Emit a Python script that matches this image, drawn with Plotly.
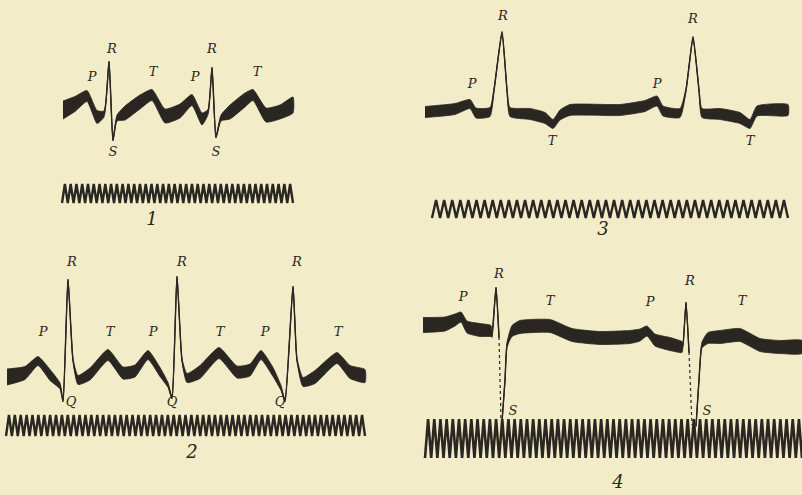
import plotly.graph_objects as go

# ---- electrocardiogram tracings (x: horizontal position, y: vertical position, w: stroke thickness)
# Curve 1
C1_X = [63, 75, 87, 97, 104, 109, 113, 117, 125, 140, 152, 165, 180, 192, 202, 208, 212, 216, 221, 230, 245, 253, 266, 280, 293]
C1_Y = [110, 104, 96, 117, 114, 62, 140, 118, 113, 102, 95, 116, 111, 100, 119, 112, 68, 137, 118, 112, 100, 95, 115, 112, 105]
C1_W = [18, 15, 11, 13, 6, 2, 2, 6, 14, 14, 11, 14, 14, 11, 12, 5, 2, 2, 6, 14, 14, 11, 14, 14, 16]

# Curve 2
C2_X = [7, 25, 38, 50, 60, 63, 68, 73, 78, 90, 108, 123, 135, 148, 160, 168, 172, 177, 182, 187, 200, 219, 237, 250,
        261, 273, 281, 285, 293, 297, 303, 315, 337, 350, 365]
C2_Y = [377, 373, 361, 375, 386, 401, 280, 360, 380, 374, 355, 373, 371, 355, 372, 385, 398, 277, 360, 378, 372, 353,
        372, 370, 355, 372, 388, 401, 287, 360, 382, 377, 358, 372, 376]
C2_W = [16, 13, 9, 11, 6, 2, 2, 3, 9, 12, 11, 12, 12, 9, 9, 5, 2, 2, 3, 9, 13, 11, 12, 12, 9, 9, 5, 2, 2, 3, 9, 13,
        11, 13, 13]

# Curve 3
C3_X = [425, 455, 470, 476, 490, 494, 502, 507, 510, 530, 545, 553, 560, 570, 620, 645, 657, 663, 680, 686, 693, 699,
        702, 720, 740, 750, 757, 788]
C3_Y = [112, 109, 104, 113, 112, 90, 33, 90, 112, 114, 118, 124, 115, 110, 110, 106, 101, 111, 113, 90, 38, 90, 113,
        114, 118, 124, 111, 110]
C3_W = [11, 11, 9, 10, 9, 3, 3, 3, 9, 11, 11, 9, 10, 11, 11, 11, 10, 10, 9, 3, 3, 3, 9, 11, 11, 9, 10, 11]

# Curve 4, in three pieces separated by the dotted downstrokes
C4A_X = [423, 445, 455, 461, 467, 480, 491, 492, 496, 499]
C4A_Y = [325, 324, 320, 317, 327, 330, 331, 336, 288, 337]
C4A_W = [15, 14, 12, 10, 12, 13, 11, 3, 2, 2]
C4B_X = [502, 505, 507, 512, 520, 550, 572, 600, 630, 640, 647, 655, 670, 682, 683, 686, 689]
C4B_Y = [422, 380, 345, 331, 327, 326, 335, 338, 337, 335, 331, 340, 344, 347, 345, 303, 352]
C4B_W = [2, 2, 5, 11, 13, 13, 13, 13, 13, 12, 10, 12, 13, 11, 3, 2, 2]
C4C_X = [696, 699, 702, 708, 720, 740, 760, 780, 802]
C4C_Y = [426, 380, 345, 338, 337, 335, 345, 347, 347]
C4C_W = [2, 2, 6, 11, 13, 13, 13, 13, 13]
C4_DOTS = [([499, 501], [337, 420]), ([689, 692], [352, 425])]

# ---- time-marker (tuning-fork) tracks: start, end, tooth count, crest, trough
TIMERS_X0 = [62, 6, 432, 425]
TIMERS_X1 = [293, 365, 788, 802]
TIMERS_TEETH = [40, 61, 44, 61]
TIMERS_TOP = [184, 415, 200, 419]
TIMERS_BASE = [203, 436, 218, 458]
TIMERS_WIDTH = [2.4, 2.4, 2.4, 2.6]

# ---- wave letters and curve numbers
WAVE_TEXT = ["P", "R", "T", "P", "R", "T", "S", "S",
             "P", "R", "T", "P", "R", "T", "P", "R", "T", "Q", "Q", "Q",
             "R", "P", "T", "P", "R", "T",
             "P", "R", "T", "P", "R", "T", "S", "S"]
WAVE_X = [92, 112, 153, 195, 212, 257, 113, 216,
          43, 72, 110, 153, 182, 220, 265, 297, 338, 71, 172, 280,
          503, 472, 552, 657, 693, 750,
          463, 499, 550, 650, 690, 742, 513, 707]
WAVE_Y = [78, 50, 73, 78, 50, 73, 153, 153,
          333, 263, 333, 333, 263, 333, 333, 263, 333, 403, 403, 403,
          17, 85, 142, 85, 20, 142,
          298, 275, 302, 303, 282, 302, 412, 412]
NUM_TEXT = ["1", "2", "3", "4"]
NUM_X = [152, 192, 603, 618]
NUM_Y = [220, 453, 230, 483]

PAPER = "#F3ECC8"
INK = "#2A2622"

fig = go.Figure()


def add_curve(xs, ys, ws):
    upper = [y - w / 2 for y, w in zip(ys, ws)]
    lower = [y + w / 2 for y, w in zip(ys, ws)]
    fig.add_trace(go.Scatter(
        x=list(xs) + list(xs)[::-1], y=upper + lower[::-1],
        mode="lines", fill="toself", fillcolor=INK,
        line=dict(color=INK, width=0.8, shape="spline", smoothing=0.5),
        hoverinfo="skip", showlegend=False))
    fig.add_trace(go.Scatter(
        x=xs, y=ys, mode="lines",
        line=dict(color=INK, width=1.4, shape="spline", smoothing=0.5),
        hoverinfo="skip", showlegend=False))


for xs, ys, ws in [(C1_X, C1_Y, C1_W), (C2_X, C2_Y, C2_W), (C3_X, C3_Y, C3_W),
                   (C4A_X, C4A_Y, C4A_W), (C4B_X, C4B_Y, C4B_W), (C4C_X, C4C_Y, C4C_W)]:
    add_curve(xs, ys, ws)

for dx, dy in C4_DOTS:
    fig.add_trace(go.Scatter(x=dx, y=dy, mode="lines",
                             line=dict(color=INK, width=1.2, dash="dot"),
                             hoverinfo="skip", showlegend=False))

# time markers drawn as a zigzag between crest and trough
for x0, x1, n, top, base, lw in zip(TIMERS_X0, TIMERS_X1, TIMERS_TEETH, TIMERS_TOP, TIMERS_BASE, TIMERS_WIDTH):
    period = (x1 - x0) / n
    zx, zy = [], []
    for i in range(n):
        zx += [x0 + i * period, x0 + (i + 0.5) * period]
        zy += [base, top]
    zx.append(x1)
    zy.append(base)
    fig.add_trace(go.Scatter(x=zx, y=zy, mode="lines", line=dict(color=INK, width=lw),
                             hoverinfo="skip", showlegend=False))

fig.add_trace(go.Scatter(x=WAVE_X, y=WAVE_Y, mode="text", text=WAVE_TEXT,
                         textfont=dict(family="DejaVu Serif", size=13, color=INK, style="italic"),
                         hoverinfo="skip", showlegend=False))
fig.add_trace(go.Scatter(x=NUM_X, y=NUM_Y, mode="text", text=NUM_TEXT,
                         textfont=dict(family="DejaVu Serif", size=18, color=INK, style="italic"),
                         hoverinfo="skip", showlegend=False))

fig.update_xaxes(range=[0, 802], visible=False, fixedrange=True)
fig.update_yaxes(range=[495, 0], visible=False, fixedrange=True)
fig.update_layout(width=802, height=495, margin=dict(l=0, r=0, t=0, b=0),
                  paper_bgcolor=PAPER, plot_bgcolor=PAPER)

fig.write_html("out.html")
